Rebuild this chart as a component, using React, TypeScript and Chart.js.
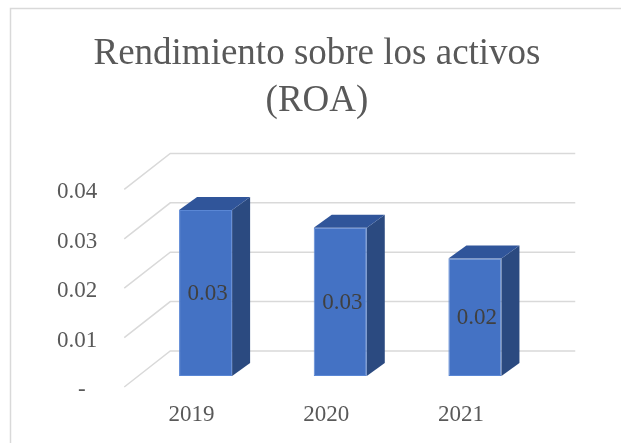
import React, { useEffect, useRef } from 'react';
import { Chart, registerables } from 'chart.js';

Chart.register(...registerables);

// ---- data ----
const categories = ['2019', '2020', '2021'];
const roaValues = [0.0336, 0.03, 0.0238];
const yMin = 0;
const yMax = 0.04;
const yStep = 0.01;
const zeroTickLabel = '-  ';
const titleLines = ['Rendimiento sobre los activos', '(ROA)'];

// ---- style ----
const FONT = '"Liberation Serif", "Times New Roman", serif';
const TEXT = '#595959';
const LABEL = '#404040';
const GRID = '#D9D9D9';
const FRONT_COLOR = '#4472C4';
const SIDE_COLOR = '#2B4A80';
const TOP_COLOR = '#30559A';

// 3D offsets (pixels) relative to the bar plane
const DEPTH = { dx: 18, dy: -13 };
const BACK = { dx: 32, dy: -25 };
const FRONT = { dx: -14, dy: 11 };

const frame3d = {
  id: 'frame3d',
  beforeDraw(chart: any) {
    const ctx = chart.ctx;
    ctx.save();
    ctx.strokeStyle = GRID;
    ctx.lineWidth = 1.5;
    ctx.beginPath();
    ctx.moveTo(10.5, chart.height);
    ctx.lineTo(10.5, 8.5);
    ctx.lineTo(chart.width, 8.5);
    ctx.stroke();
    ctx.restore();
  },
  beforeDatasetsDraw(chart: any) {
    const { ctx, chartArea } = chart;
    const ys = chart.scales.y;
    ctx.save();
    ctx.strokeStyle = GRID;
    ctx.lineWidth = 1.5;
    ys.ticks.forEach((t: any) => {
      const py = ys.getPixelForValue(t.value);
      ctx.beginPath();
      ctx.moveTo(chartArea.left + FRONT.dx, py + FRONT.dy);
      ctx.lineTo(chartArea.left + BACK.dx, py + BACK.dy);
      ctx.lineTo(chartArea.right + BACK.dx + 1, py + BACK.dy);
      ctx.stroke();
    });
    ctx.restore();
  },
  afterDatasetsDraw(chart: any) {
    const ctx = chart.ctx;
    const meta = chart.getDatasetMeta(0);
    const data = chart.data.datasets[0].data;
    ctx.save();
    meta.data.forEach((bar: any, i: number) => {
      const { x, y, base, width } = bar.getProps(['x', 'y', 'base', 'width'], true);
      const x0 = x - width / 2;
      const x1 = x + width / 2;
      // side face
      ctx.fillStyle = SIDE_COLOR;
      ctx.beginPath();
      ctx.moveTo(x1, y);
      ctx.lineTo(x1 + DEPTH.dx, y + DEPTH.dy);
      ctx.lineTo(x1 + DEPTH.dx, base + DEPTH.dy);
      ctx.lineTo(x1, base);
      ctx.closePath();
      ctx.fill();
      // top face
      ctx.fillStyle = TOP_COLOR;
      ctx.beginPath();
      ctx.moveTo(x0, y);
      ctx.lineTo(x0 + DEPTH.dx, y + DEPTH.dy);
      ctx.lineTo(x1 + DEPTH.dx, y + DEPTH.dy);
      ctx.lineTo(x1, y);
      ctx.closePath();
      ctx.fill();
      // data label
      ctx.fillStyle = LABEL;
      ctx.font = `23px ${FONT}`;
      ctx.textAlign = 'center';
      ctx.textBaseline = 'middle';
      ctx.fillText(Number(data[i]).toFixed(2), x + 2, (y + base) / 2 + 1);
    });
    ctx.restore();
  },
};

export default function App() {
  const ref = useRef<HTMLCanvasElement | null>(null);

  useEffect(() => {
    document.body.style.margin = '0';
    if (!ref.current) return;
    const chart = new Chart(ref.current, {
      type: 'bar',
      data: {
        labels: categories,
        datasets: [
          {
            data: roaValues,
            backgroundColor: FRONT_COLOR,
            borderColor: '#5A87D5',
            borderWidth: 1,
            borderSkipped: false,
            barPercentage: 0.394,
            categoryPercentage: 1,
          },
        ],
      },
      options: {
        responsive: false,
        animation: false,
        layout: { padding: 0 },
        plugins: {
          legend: { display: false },
          tooltip: { enabled: false },
          title: {
            display: true,
            text: titleLines,
            color: TEXT,
            font: { family: FONT, size: 37, weight: 'normal', lineHeight: 1.25 },
            padding: { top: 31.5, bottom: 54.4 },
          },
        },
        scales: {
          x: {
            grid: { display: false, drawTicks: false },
            border: { display: false },
            ticks: {
              color: TEXT,
              font: { family: FONT, size: 23 },
              padding: 25,
              labelOffset: -14,
              maxRotation: 0,
            },
            afterFit: (s: any) => {
              s.height = 67;
            },
          },
          y: {
            min: yMin,
            max: yMax,
            grid: { display: false, drawTicks: false },
            border: { display: false },
            ticks: {
              stepSize: yStep,
              color: TEXT,
              font: { family: FONT, size: 23 },
              padding: 41,
              labelOffset: 14,
              callback: (v: any) => (Number(v) === 0 ? zeroTickLabel : Number(v).toFixed(2)),
            },
            afterFit: (s: any) => {
              s.width = 138.25;
            },
          },
          y2: {
            type: 'linear',
            axis: 'y',
            position: 'right',
            grid: { display: false, drawTicks: false },
            border: { display: false },
            ticks: { display: false },
            afterFit: (s: any) => {
              s.width = 91.75;
            },
          },
        },
      } as any,
      plugins: [frame3d],
    });
    return () => chart.destroy();
  }, []);

  return (
    <div style={{ width: 621, height: 443, overflow: 'hidden', position: 'relative' }}>
      <canvas ref={ref} width={634} height={443} style={{ display: 'block' }} />
    </div>
  );
}
